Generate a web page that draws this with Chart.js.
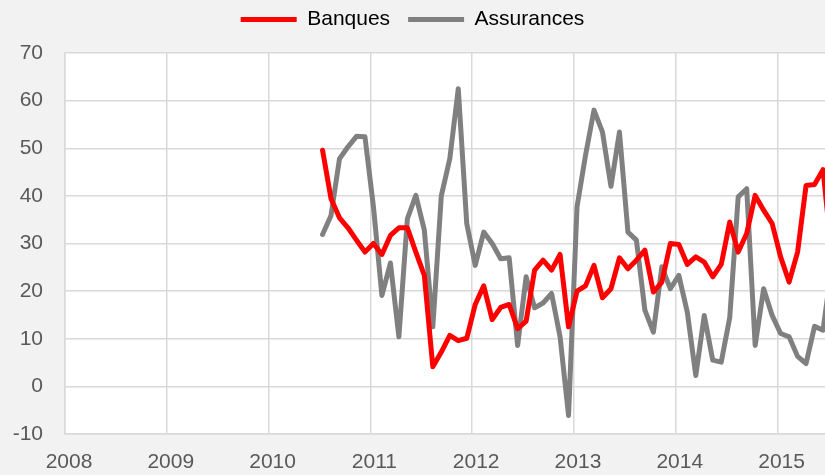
<!DOCTYPE html>
<html>
<head>
<meta charset="utf-8">
<script src="https://cdn.jsdelivr.net/npm/chart.js@4"></script>
<style>
  html, body { margin: 0; padding: 0; background: #f2f2f2; overflow: hidden; }
  #wrap { width: 825px; height: 475px; }
</style>
</head>
<body>
<div id="wrap"><canvas id="chart" width="825" height="475"></canvas></div>
<script>
// --- DATA ---
// monthly series, first point ~ July 2010 (decimal year)
const firstMonth = 2010.53;

const banques = [
  49.6, 39.4, 35.4, 33.3, 30.7, 28.2, 30.0, 27.7, 31.7, 33.3,
  33.3, 28.2, 23.3, 4.1, 7.2, 10.7, 9.6, 10.1, 17.2, 21.1,
  14.0, 16.6, 17.2, 12.1, 13.7, 24.4, 26.5, 24.4, 27.7, 12.5,
  20.0, 21.1, 25.4, 18.6, 20.5, 27.0, 24.7, 26.5, 28.6, 19.8,
  21.9, 30.0, 29.8, 25.6, 27.2, 26.1, 23.0, 25.6, 34.5, 28.2,
  32.1, 40.1, 37.0, 34.2, 27.2, 21.9, 28.2, 42.2, 42.4, 45.5,
  28.0
];

const assurances = [
  31.9, 35.9, 47.8, 50.3, 52.5, 52.4, 37.7, 19.1, 25.9, 10.4,
  35.2, 40.1, 32.8, 12.5, 40.0, 47.8, 62.5, 34.2, 25.4, 32.4,
  30.0, 26.8, 27.0, 8.6, 23.0, 16.5, 17.5, 19.5, 10.4, -6.1,
  37.7, 48.5, 58.0, 53.4, 42.0, 53.4, 32.4, 30.7, 16.0, 11.4,
  25.1, 20.5, 23.3, 15.6, 2.3, 14.9, 5.5, 5.1, 14.4, 39.8,
  41.5, 8.6, 20.5, 14.9, 11.1, 10.4, 6.3, 4.8, 12.6, 11.8,
  25.0
];

const yearTicks = [2008, 2009, 2010, 2011, 2012, 2013, 2014, 2015];

// --- BUILD POINTS ---
const toPoints = arr => arr.map((v, i) => ({ x: firstMonth + i / 12, y: v }));

// white plot area on grey page
const plotBg = {
  id: 'plotBg',
  beforeDraw(chart) {
    const { ctx, chartArea: a } = chart;
    ctx.save();
    ctx.fillStyle = '#ffffff';
    ctx.fillRect(a.left, a.top, a.right - a.left, a.bottom - a.top);
    ctx.restore();
  }
};

// adjust the room taken by the legend
const legendGap = {
  id: 'legendGap',
  beforeLayout(chart) {
    const lg = chart.legend;
    if (lg && !lg._gapPatched) {
      const fit = lg.fit;
      lg.fit = function () {
        fit.call(this);
        this.height += 13;
      };
      lg._gapPatched = true;
    }
  }
};

const tickFont = { family: '"Liberation Sans", Arial, sans-serif', size: 21 };

new Chart(document.getElementById('chart'), {
  type: 'line',
  data: {
    datasets: [
      {
        label: 'Banques',
        data: toPoints(banques),
        borderColor: '#ff0000',
        backgroundColor: '#ff0000',
        borderWidth: 5,
        pointRadius: 0,
        tension: 0,
        borderJoinStyle: 'round',
        borderCapStyle: 'round'
      },
      {
        label: 'Assurances',
        data: toPoints(assurances),
        borderColor: '#808080',
        backgroundColor: '#808080',
        borderWidth: 5,
        pointRadius: 0,
        tension: 0,
        borderJoinStyle: 'round',
        borderCapStyle: 'round'
      }
    ]
  },
  options: {
    responsive: false,
    animation: false,
    layout: { padding: { left: 0, right: 0, top: -9, bottom: 0 } },
    scales: {
      x: {
        type: 'linear',
        min: 2008,
        max: 2015.466,
        afterBuildTicks: s => { s.ticks = yearTicks.map(v => ({ value: v })); },
        afterFit: s => { s.height = 41; },
        grid: { color: '#d9d9d9', lineWidth: 1.5, drawTicks: false },
        border: { color: '#d9d9d9', width: 1.5 },
        ticks: {
          color: '#595959',
          font: tickFont,
          padding: 16,
          labelOffset: 4,
          maxRotation: 0,
          callback: v => String(v)
        }
      },
      y: {
        min: -10,
        max: 70,
        afterFit: s => { s.width = 65; },
        grid: { color: '#d9d9d9', lineWidth: 1.5, drawTicks: false },
        border: { color: '#d9d9d9', width: 1.5 },
        ticks: {
          stepSize: 10,
          color: '#595959',
          font: tickFont,
          padding: 22
        }
      }
    },
    plugins: {
      legend: {
        position: 'top',
        labels: {
          color: '#000000',
          font: tickFont,
          boxWidth: 56,
          boxHeight: 5,
          useBorderRadius: true,
          borderRadius: 2.5,
          padding: 18,
          generateLabels: chart => chart.data.datasets.map((d, i) => ({
            text: d.label,
            fillStyle: d.borderColor,
            strokeStyle: d.borderColor,
            lineWidth: 0,
            datasetIndex: i,
            hidden: false
          }))
        }
      },
      tooltip: { enabled: false }
    }
  },
  plugins: [plotBg, legendGap]
});
</script>
</body>
</html>
